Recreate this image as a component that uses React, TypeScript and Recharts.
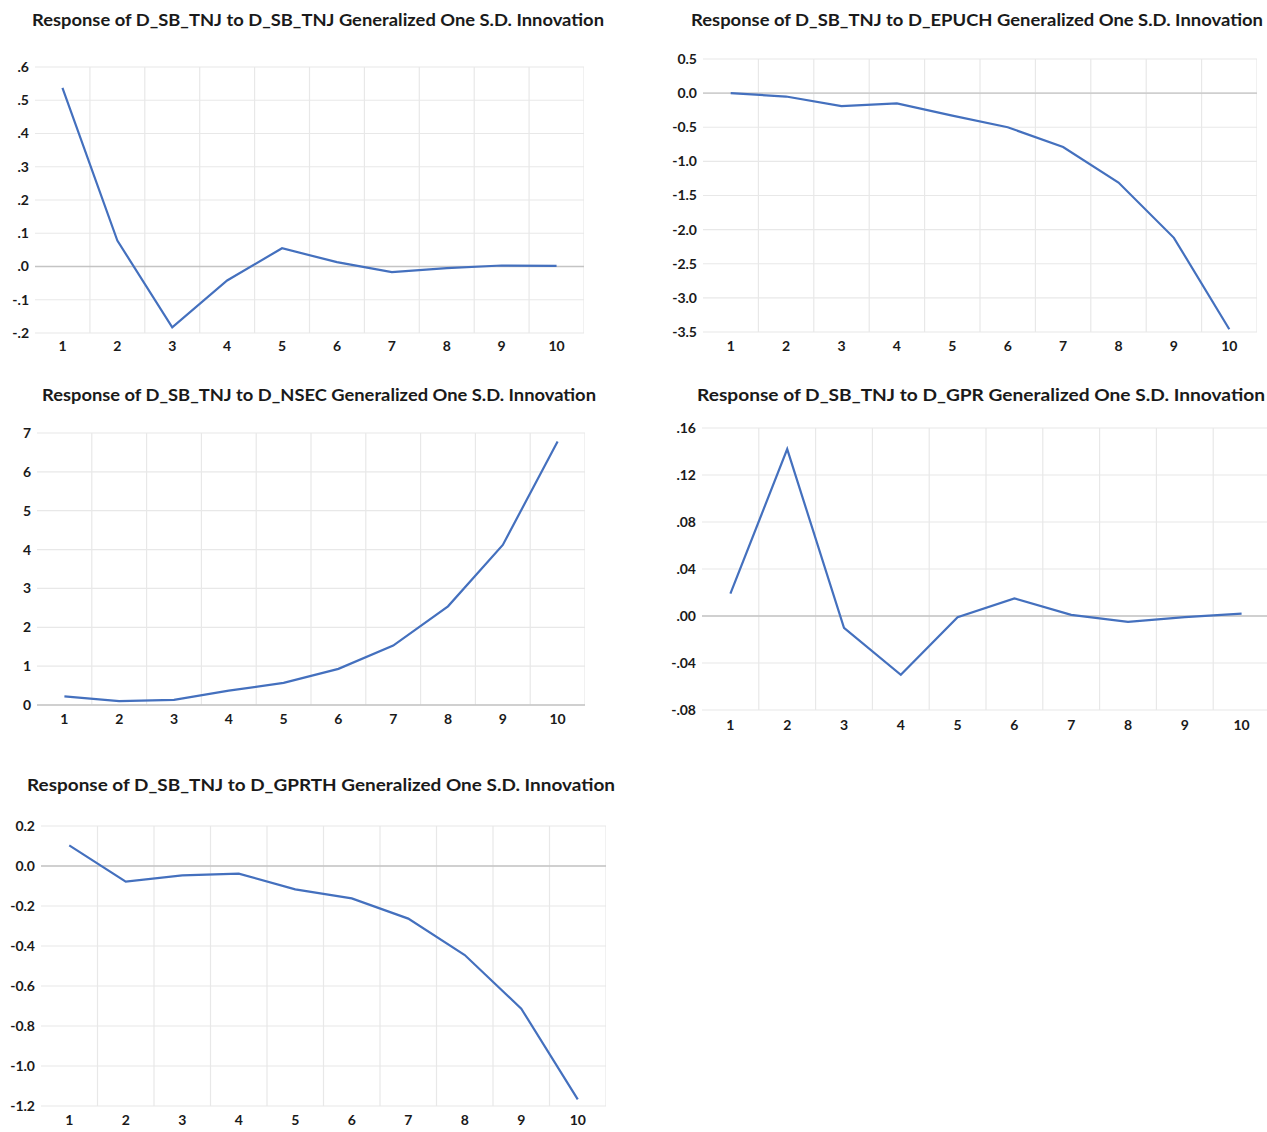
import React from 'react'
import { LineChart, Line, XAxis, YAxis, CartesianGrid, ReferenceLine } from 'recharts'

// impulse response horizons
const horizons = [1, 2, 3, 4, 5, 6, 7, 8, 9, 10]

// responses of D_SB_TNJ
const respSbTnj = [0.537, 0.078, -0.183, -0.042, 0.055, 0.013, -0.017, -0.005, 0.003, 0.002]
const respEpuch = [0.0, -0.05, -0.19, -0.15, -0.33, -0.5, -0.79, -1.31, -2.12, -3.46]
const respNsec = [0.22, 0.1, 0.13, 0.37, 0.57, 0.93, 1.53, 2.54, 4.12, 6.78]
const respGpr = [0.019, 0.142, -0.01, -0.05, -0.001, 0.015, 0.001, -0.005, -0.001, 0.002]
const respGprth = [0.103, -0.078, -0.047, -0.038, -0.117, -0.162, -0.263, -0.445, -0.713, -1.167]

const ticksSbTnj = [-0.2, -0.1, 0, 0.1, 0.2, 0.3, 0.4, 0.5, 0.6]
const ticksEpuch = [-3.5, -3, -2.5, -2, -1.5, -1, -0.5, 0, 0.5]
const ticksNsec = [0, 1, 2, 3, 4, 5, 6, 7]
const ticksGpr = [-0.08, -0.04, 0, 0.04, 0.08, 0.12, 0.16]
const ticksGprth = [-1.2, -1, -0.8, -0.6, -0.4, -0.2, 0, 0.2]

// grid lines sit between horizons
const X_DOMAIN = [0.5, 10.5]
const bandEdges = [1.5, 2.5, 3.5, 4.5, 5.5, 6.5, 7.5, 8.5, 9.5, 10.5]

const LINE = '#4470be'
const FONT = 'Lato, "Open Sans", sans-serif'

const noLead = (digits: number) => (v: number) =>
  v.toFixed(digits).replace(/^(-?)0\./, '$1.')
const fixed = (digits: number) => (v: number) => v.toFixed(digits)

const panels = [
  {
    title: 'Response of D_SB_TNJ to D_SB_TNJ Generalized One S.D. Innovation',
    values: respSbTnj, ticks: ticksSbTnj, fmt: noLead(1),
    left: 0, top: 0, width: 584, height: 363, mt: 67, yw: 35, xh: 30, xm: 8,
    titleX: 32, titleY: 20, titleW: 572,
  },
  {
    title: 'Response of D_SB_TNJ to D_EPUCH Generalized One S.D. Innovation',
    values: respEpuch, ticks: ticksEpuch, fmt: fixed(1),
    left: 650, top: 0, width: 607, height: 362, mt: 59, yw: 53, xh: 30, xm: 9,
    titleX: 691, titleY: 20, titleW: 572,
  },
  {
    title: 'Response of D_SB_TNJ to D_NSEC Generalized One S.D. Innovation',
    values: respNsec, ticks: ticksNsec, fmt: fixed(0),
    left: 0, top: 380, width: 585, height: 353, mt: 53, yw: 37, xh: 28, xm: 9,
    titleX: 42, titleY: 395, titleW: 554,
  },
  {
    title: 'Response of D_SB_TNJ to D_GPR Generalized One S.D. Innovation',
    values: respGpr, ticks: ticksGpr, fmt: noLead(2),
    left: 650, top: 380, width: 620, height: 360, mt: 48, yw: 52, xh: 30, xm: 10,
    titleX: 697, titleY: 395, titleW: 568,
  },
  {
    title: 'Response of D_SB_TNJ to D_GPRTH Generalized One S.D. Innovation',
    values: respGprth, ticks: ticksGprth, fmt: fixed(1),
    left: 0, top: 770, width: 606, height: 362, mt: 56, yw: 41, xh: 26, xm: 9,
    titleX: 27, titleY: 785, titleW: 588,
  },
]

function edgeCoords({ xAxis, offset }: any) {
  if (xAxis && typeof xAxis.scale === 'function') {
    return bandEdges.map((e) => xAxis.scale(e))
  }
  const [d0, d1] = X_DOMAIN
  return bandEdges.map((e) => offset.left + ((e - d0) / (d1 - d0)) * offset.width)
}

function Panel({ p }: { p: (typeof panels)[number] }) {
  const data = horizons.map((h, i) => ({ h, v: p.values[i] }))
  const lo = p.ticks[0]
  const hi = p.ticks[p.ticks.length - 1]
  const tickStyle = { fill: '#1a1a1a', fontSize: 14, fontWeight: 700, fontFamily: FONT }
  return (
    <>
      <div style={{ position: 'absolute', left: p.left, top: p.top }}>
        <LineChart
          width={p.width}
          height={p.height}
          data={data}
          margin={{ top: p.mt, right: 0, left: 0, bottom: 0 }}
        >
          <CartesianGrid
            stroke="#e8e8e8"
            strokeWidth={1.2}
            verticalCoordinatesGenerator={edgeCoords}
          />
          <ReferenceLine y={0} stroke="#c4c4c4" strokeWidth={1.4} />
          <XAxis
            dataKey="h"
            type="number"
            domain={X_DOMAIN}
            ticks={horizons}
            axisLine={false}
            tickLine={false}
            tickSize={0}
            tickMargin={p.xm}
            height={p.xh}
            tick={tickStyle}
            interval={0}
          />
          <YAxis
            domain={[lo, hi]}
            ticks={p.ticks}
            axisLine={false}
            tickLine={false}
            tickSize={0}
            tickMargin={6}
            width={p.yw}
            tick={tickStyle}
            tickFormatter={p.fmt}
            interval={0}
            allowDataOverflow
          />
          <Line
            type="linear"
            dataKey="v"
            stroke={LINE}
            strokeWidth={2.2}
            dot={false}
            activeDot={false}
            isAnimationActive={false}
          />
        </LineChart>
      </div>
      <svg
        style={{ position: 'absolute', left: p.titleX, top: p.titleY - 12 }}
        width={p.titleW + 4}
        height={24}
      >
        <text
          x={0}
          y={17.5}
          textLength={p.titleW}
          lengthAdjust="spacingAndGlyphs"
          fontFamily={FONT}
          fontWeight={700}
          fontSize={17}
          fill="#1a1a1a"
        >
          {p.title}
        </text>
      </svg>
    </>
  )
}

export default function App() {
  return (
    <div
      style={{
        position: 'absolute',
        left: 0,
        top: 0,
        width: 1267,
        height: 1132,
        background: '#fff',
        overflow: 'hidden',
      }}
    >
      {panels.map((p) => (
        <Panel key={p.title} p={p} />
      ))}
    </div>
  )
}
